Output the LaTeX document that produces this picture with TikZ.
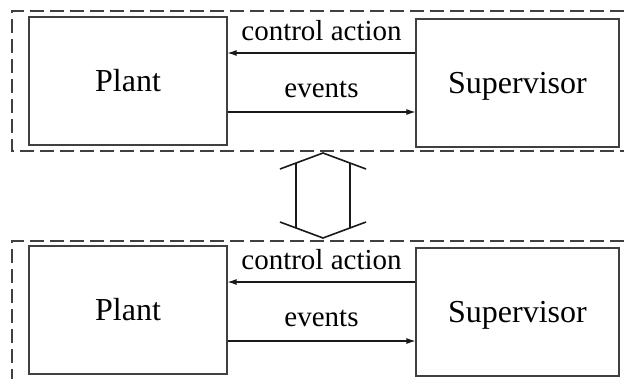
\documentclass[tikz,border=0pt]{standalone}
\usepackage{fontspec}
\setmainfont{Liberation Serif}
\usetikzlibrary{arrows.meta}
\begin{document}
\begin{tikzpicture}[x=1pt,y=-1pt,
  block/.style={draw=black!75, line width=1.1pt, inner sep=0pt,
    minimum height=128pt, text height=21.5pt, text depth=0pt,
    font=\fontsize{32}{36}\selectfont},
  frame/.style={draw=black!75, line width=1.1pt, dash pattern=on 14pt off 6pt},
  flow/.style={draw=black!90, line width=1.1pt, -{Latex[length=9pt,width=6pt]}},
  lbl/.style={font=\fontsize{29}{32}\selectfont, inner sep=0pt},
  swap/.style={draw=black!90, line width=1.6pt}]
\useasboundingbox (0,0) rectangle (624,378);

% two copies of the plant/supervisor loop, one above the other
\foreach \k/\dy in {1/0, 2/229} {
  \begin{scope}[shift={(0,\dy)}]
    \node[block, minimum width=198pt] (p\k) at (128,81) {Plant};
    \node[block, minimum width=203pt] (s\k) at (517.5,83) {Supervisor};
    \coordinate (ca\k) at (0,53);
    \coordinate (ev\k) at (0,112);
    \draw[flow] (s\k.west |- ca\k) -- node[lbl, above=12pt] {control action} (p\k.east |- ca\k);
    \draw[flow] (p\k.east |- ev\k) -- node[lbl, above=14pt] {events} (s\k.west |- ev\k);
  \end{scope}
}

% dashed enclosures, open on the right
\draw[frame] (624,11) -- (12,11) -- (12,151) -- (624,151);
\draw[frame] (624,241) -- (12,241) -- (12,382);

% double-headed equivalence arrow between the two loops
\draw[swap, line join=miter] (280,169) -- (323,153) -- (366,169);
\draw[swap, line join=miter] (280,222) -- (323,238) -- (366,222);
\draw[draw=black!90, line width=1.2pt] (296,163) -- (296,228);
\draw[draw=black!90, line width=1.2pt] (350,163) -- (350,228);
\end{tikzpicture}
\end{document}
